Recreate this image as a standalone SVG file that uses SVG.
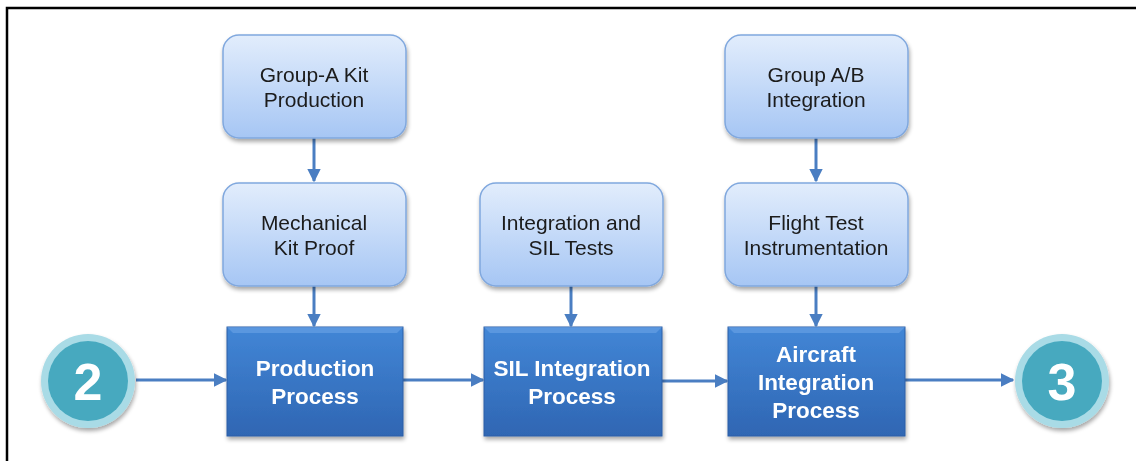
<svg xmlns="http://www.w3.org/2000/svg" width="1136" height="461" viewBox="0 0 1136 461">
<defs>
<linearGradient id="lg" x1="0" y1="0" x2="0" y2="1">
<stop offset="0" stop-color="#e2edfc"/>
<stop offset="1" stop-color="#a6c6f4"/>
</linearGradient>
<linearGradient id="dg" x1="0" y1="0" x2="0" y2="1">
<stop offset="0" stop-color="#4286d6"/>
<stop offset="1" stop-color="#2f66b3"/>
</linearGradient>
<filter id="sh" x="-10%" y="-10%" width="130%" height="130%">
<feGaussianBlur in="SourceAlpha" stdDeviation="2"/>
<feOffset dx="1" dy="3"/>
<feComponentTransfer><feFuncA type="linear" slope="0.35"/></feComponentTransfer>
<feMerge><feMergeNode/><feMergeNode in="SourceGraphic"/></feMerge>
</filter>
<marker id="ah" viewBox="0 0 10 10" refX="9" refY="5" markerWidth="4.5" markerHeight="4.5" orient="auto" markerUnits="strokeWidth">
<path d="M0,0 L10,5 L0,10 z" fill="#4a7ec2"/>
</marker>
<style>
.lb{fill:url(#lg);stroke:#80a8de;stroke-width:1.5}
.db{fill:url(#dg);stroke:#2d5fa6;stroke-width:1}
.lt{font-family:"Liberation Sans",Arial,sans-serif;font-size:21px;fill:#1a1a1a;text-anchor:middle}
.dt{font-family:"Liberation Sans",Arial,sans-serif;font-size:22.5px;font-weight:bold;fill:#ffffff;text-anchor:middle}
.ct{font-family:"Liberation Sans",Arial,sans-serif;font-size:52px;font-weight:bold;fill:#ffffff;text-anchor:middle}
.cn{stroke:#4a7ec2;stroke-width:3;fill:none;marker-end:url(#ah)}
</style>
</defs>
<rect width="1136" height="461" fill="#ffffff"/>
<path d="M7,461 V8 H1136" fill="none" stroke="#000000" stroke-width="2.5"/>

<g id="connectors">
<line class="cn" x1="314" y1="138" x2="314" y2="181"/>
<line class="cn" x1="314" y1="286" x2="314" y2="326"/>
<line class="cn" x1="571" y1="286" x2="571" y2="326"/>
<line class="cn" x1="816" y1="138" x2="816" y2="181"/>
<line class="cn" x1="816" y1="286" x2="816" y2="326"/>
<line class="cn" x1="136" y1="380" x2="226" y2="380"/>
<line class="cn" x1="403" y1="380" x2="483" y2="380"/>
<line class="cn" x1="662" y1="381" x2="727" y2="381"/>
<line class="cn" x1="905" y1="380" x2="1013" y2="380"/>
</g>

<g id="c2" filter="url(#sh)">
<circle cx="88" cy="381" r="47" fill="#a9dbe6"/>
<circle cx="88" cy="381" r="40" fill="#46a9bf"/>
<text class="ct" x="88" y="400">2</text>
</g>
<g id="c3" filter="url(#sh)">
<circle cx="1062" cy="381" r="47" fill="#a9dbe6"/>
<circle cx="1062" cy="381" r="40" fill="#46a9bf"/>
<text class="ct" x="1062" y="400">3</text>
</g>

<g id="groupA" filter="url(#sh)">
<rect class="lb" x="223" y="35" width="183" height="103" rx="16"/>
<text class="lt" x="314" y="82">Group-A Kit</text>
<text class="lt" x="314" y="107">Production</text>
</g>
<g id="mech" filter="url(#sh)">
<rect class="lb" x="223" y="183" width="183" height="103" rx="16"/>
<text class="lt" x="314" y="230">Mechanical</text>
<text class="lt" x="314" y="255">Kit Proof</text>
</g>
<g id="silTests" filter="url(#sh)">
<rect class="lb" x="480" y="183" width="183" height="103" rx="16"/>
<text class="lt" x="571" y="230">Integration and</text>
<text class="lt" x="571" y="255">SIL Tests</text>
</g>
<g id="groupAB" filter="url(#sh)">
<rect class="lb" x="725" y="35" width="183" height="103" rx="16"/>
<text class="lt" x="816" y="82">Group A/B</text>
<text class="lt" x="816" y="107">Integration</text>
</g>
<g id="fti" filter="url(#sh)">
<rect class="lb" x="725" y="183" width="183" height="103" rx="16"/>
<text class="lt" x="816" y="230">Flight Test</text>
<text class="lt" x="816" y="255">Instrumentation</text>
</g>

<g id="production" filter="url(#sh)">
<rect class="db" x="227" y="327" width="176" height="109"/>
<path d="M227,327 H403 L397,333 H233 Z" fill="#6aa3e6" opacity="0.6"/>
<text class="dt" x="315" y="376">Production</text>
<text class="dt" x="315" y="404">Process</text>
</g>
<g id="silProcess" filter="url(#sh)">
<rect class="db" x="484" y="327" width="178" height="109"/>
<path d="M484,327 H662 L656,333 H490 Z" fill="#6aa3e6" opacity="0.6"/>
<text class="dt" x="572" y="376">SIL Integration</text>
<text class="dt" x="572" y="404">Process</text>
</g>
<g id="aircraft" filter="url(#sh)">
<rect class="db" x="728" y="327" width="177" height="109"/>
<path d="M728,327 H905 L899,333 H734 Z" fill="#6aa3e6" opacity="0.6"/>
<text class="dt" x="816" y="362">Aircraft</text>
<text class="dt" x="816" y="390">Integration</text>
<text class="dt" x="816" y="418">Process</text>
</g>
</svg>
